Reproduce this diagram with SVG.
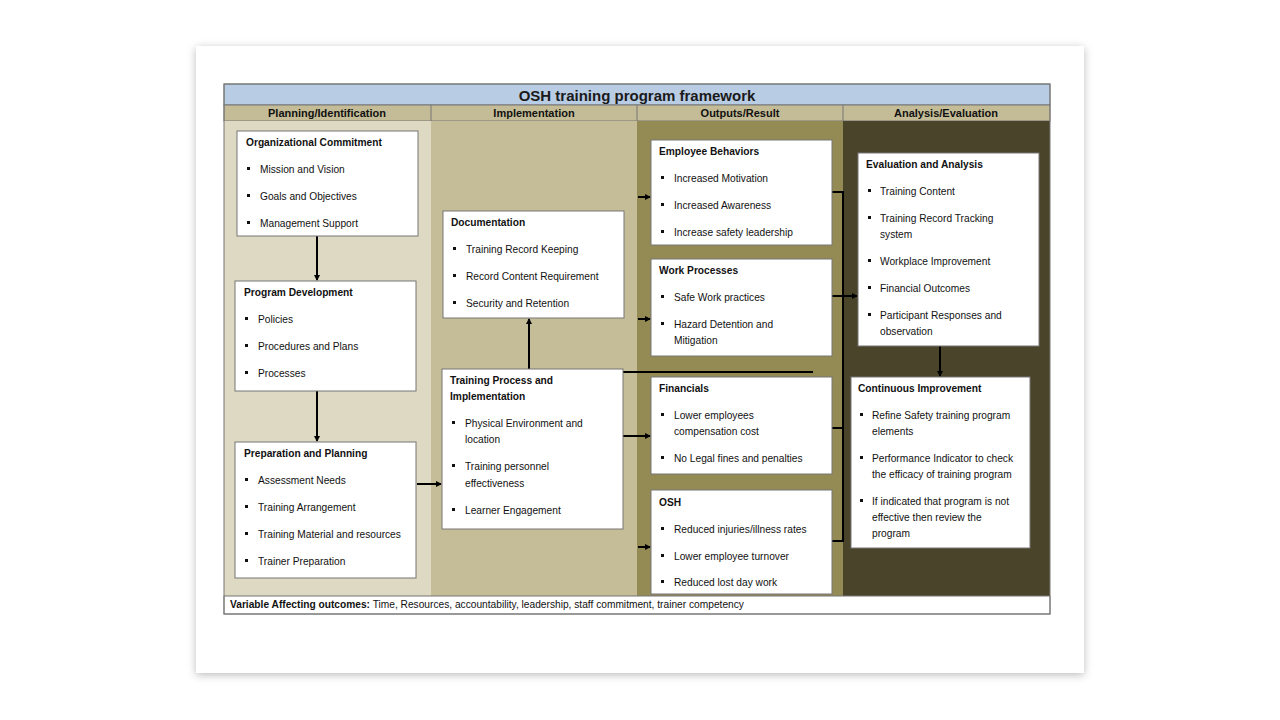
<svg xmlns="http://www.w3.org/2000/svg" width="1280" height="720" viewBox="0 0 1280 720">
<defs>
<marker id="ah" markerWidth="6" markerHeight="6" refX="5" refY="3" orient="auto" markerUnits="userSpaceOnUse"><path d="M0,0 L6,3 L0,6 z" fill="#000"/></marker>
<filter id="sh" x="-5%" y="-5%" width="110%" height="110%"><feGaussianBlur stdDeviation="4"/></filter>
</defs>
<style>
text{font-family:"Liberation Sans",Arial,sans-serif;font-size:10.2px;fill:#111}
.t{font-weight:bold}
.h{font-weight:bold;font-size:11px;text-anchor:middle}
.box{fill:#fff;stroke:#777;stroke-width:1}
.b{fill:#111}
.c{stroke:#000;stroke-width:2;fill:none}
</style>
<rect width="1280" height="720" fill="#fff"/>
<rect x="196" y="48" width="888" height="627" fill="#bbb" filter="url(#sh)"/>
<rect x="196" y="46" width="888" height="627" fill="#fff"/>
<rect x="224" y="84" width="826" height="21" fill="#b8cce4" stroke="#777"/>
<text x="637" y="101" style="font-size:15px;font-weight:bold;text-anchor:middle;fill:#1a1a1a">OSH training program framework</text>
<rect x="224" y="105" width="826" height="16" fill="#c4bc96" stroke="#777"/>
<line x1="431" y1="105" x2="431" y2="121" stroke="#777"/><line x1="637" y1="105" x2="637" y2="121" stroke="#777"/><line x1="843" y1="105" x2="843" y2="121" stroke="#777"/>
<text class="h" x="327" y="117">Planning/Identification</text>
<text class="h" x="534" y="117">Implementation</text>
<text class="h" x="740" y="117">Outputs/Result</text>
<text class="h" x="946" y="117">Analysis/Evaluation</text>
<rect x="224" y="121" width="207" height="475" fill="#ddd9c3"/>
<rect x="431" y="121" width="206" height="475" fill="#c4bd97"/>
<rect x="637" y="121" width="206" height="475" fill="#948a54"/>
<rect x="843" y="121" width="207" height="475" fill="#4a442a"/>
<rect x="224" y="596" width="826" height="18" fill="#fff" stroke="#777"/>
<text x="230" y="608"><tspan class="t">Variable Affecting outcomes:</tspan> Time, Resources, accountability, leadership, staff commitment, trainer competency</text>
<rect x="224" y="84" width="826" height="530" fill="none" stroke="#777"/>

<g id="connectors">
<line class="c" x1="317" y1="236" x2="317" y2="280" marker-end="url(#ah)"/>
<line class="c" x1="317" y1="391" x2="317" y2="441" marker-end="url(#ah)"/>
<line class="c" x1="417" y1="484" x2="441" y2="484" marker-end="url(#ah)"/>
<line class="c" x1="529" y1="372" x2="529" y2="319" marker-end="url(#ah)"/>
<line class="c" x1="463" y1="372" x2="813" y2="372"/>
<line class="c" x1="623" y1="436" x2="650" y2="436" marker-end="url(#ah)"/>
<line class="c" x1="638" y1="197" x2="650" y2="197" marker-end="url(#ah)"/>
<line class="c" x1="638" y1="319" x2="650" y2="319" marker-end="url(#ah)"/>
<line class="c" x1="638" y1="547" x2="650" y2="547" marker-end="url(#ah)"/>
<polyline class="c" points="832,192 843,192 843,541 832,541"/>
<line class="c" x1="832" y1="296" x2="843" y2="296"/>
<line class="c" x1="832" y1="428" x2="843" y2="428"/>
<line class="c" x1="843" y1="296" x2="857" y2="296" marker-end="url(#ah)"/>
<line class="c" x1="940" y1="346" x2="940" y2="376" marker-end="url(#ah)"/>
</g>

<g id="org"><rect class="box" x="237" y="131" width="181" height="105"/>
<text class="t" x="246" y="146">Organizational Commitment</text>
<rect class="b" x="247" y="167" width="3" height="3"/><text x="260" y="173">Mission and Vision</text>
<rect class="b" x="247" y="194" width="3" height="3"/><text x="260" y="200">Goals and Objectives</text>
<rect class="b" x="247" y="221" width="3" height="3"/><text x="260" y="227">Management Support</text></g>

<g id="progdev"><rect class="box" x="235" y="281" width="181" height="110"/>
<text class="t" x="244" y="296">Program Development</text>
<rect class="b" x="245" y="317" width="3" height="3"/><text x="258" y="323">Policies</text>
<rect class="b" x="245" y="344" width="3" height="3"/><text x="258" y="350">Procedures and Plans</text>
<rect class="b" x="245" y="371" width="3" height="3"/><text x="258" y="377">Processes</text></g>

<g id="prep"><rect class="box" x="235" y="442" width="181" height="136"/>
<text class="t" x="244" y="457">Preparation and Planning</text>
<rect class="b" x="245" y="478" width="3" height="3"/><text x="258" y="484">Assessment Needs</text>
<rect class="b" x="245" y="505" width="3" height="3"/><text x="258" y="511">Training Arrangement</text>
<rect class="b" x="245" y="532" width="3" height="3"/><text x="258" y="538">Training Material and resources</text>
<rect class="b" x="245" y="559" width="3" height="3"/><text x="258" y="565">Trainer Preparation</text></g>

<g id="doc"><rect class="box" x="443" y="211" width="181" height="107"/>
<text class="t" x="451" y="226">Documentation</text>
<rect class="b" x="453" y="247" width="3" height="3"/><text x="466" y="253">Training Record Keeping</text>
<rect class="b" x="453" y="274" width="3" height="3"/><text x="466" y="280">Record Content Requirement</text>
<rect class="b" x="453" y="301" width="3" height="3"/><text x="466" y="307">Security and Retention</text></g>

<g id="training"><rect class="box" x="442" y="369" width="181" height="160"/>
<text class="t" x="450" y="384">Training Process and</text><text class="t" x="450" y="400">Implementation</text>
<rect class="b" x="452" y="421" width="3" height="3"/><text x="465" y="427">Physical Environment and</text><text x="465" y="443">location</text>
<rect class="b" x="452" y="464" width="3" height="3"/><text x="465" y="470">Training personnel</text><text x="465" y="487">effectiveness</text>
<rect class="b" x="452" y="508" width="3" height="3"/><text x="465" y="514">Learner Engagement</text></g>

<g id="empl"><rect class="box" x="651" y="140" width="181" height="105"/>
<text class="t" x="659" y="155">Employee Behaviors</text>
<rect class="b" x="661" y="176" width="3" height="3"/><text x="674" y="182">Increased Motivation</text>
<rect class="b" x="661" y="203" width="3" height="3"/><text x="674" y="209">Increased Awareness</text>
<rect class="b" x="661" y="230" width="3" height="3"/><text x="674" y="236">Increase safety leadership</text></g>

<g id="work"><rect class="box" x="651" y="259" width="181" height="97"/>
<text class="t" x="659" y="274">Work Processes</text>
<rect class="b" x="661" y="295" width="3" height="3"/><text x="674" y="301">Safe Work practices</text>
<rect class="b" x="661" y="322" width="3" height="3"/><text x="674" y="328">Hazard Detention and</text><text x="674" y="344">Mitigation</text></g>

<g id="fin"><rect class="box" x="651" y="377" width="181" height="97"/>
<text class="t" x="659" y="392">Financials</text>
<rect class="b" x="661" y="413" width="3" height="3"/><text x="674" y="419">Lower employees</text><text x="674" y="435">compensation cost</text>
<rect class="b" x="661" y="456" width="3" height="3"/><text x="674" y="462">No Legal fines and penalties</text></g>

<g id="osh"><rect class="box" x="651" y="490" width="181" height="104"/>
<text class="t" x="659" y="506">OSH</text>
<rect class="b" x="661" y="527" width="3" height="3"/><text x="674" y="533">Reduced injuries/illness rates</text>
<rect class="b" x="661" y="554" width="3" height="3"/><text x="674" y="560">Lower employee turnover</text>
<rect class="b" x="661" y="580" width="3" height="3"/><text x="674" y="586">Reduced lost day work</text></g>

<g id="eval"><rect class="box" x="858" y="153" width="181" height="193"/>
<text class="t" x="866" y="168">Evaluation and Analysis</text>
<rect class="b" x="868" y="189" width="3" height="3"/><text x="880" y="195">Training Content</text>
<rect class="b" x="868" y="216" width="3" height="3"/><text x="880" y="222">Training Record Tracking</text><text x="880" y="238">system</text>
<rect class="b" x="868" y="259" width="3" height="3"/><text x="880" y="265">Workplace Improvement</text>
<rect class="b" x="868" y="286" width="3" height="3"/><text x="880" y="292">Financial Outcomes</text>
<rect class="b" x="868" y="313" width="3" height="3"/><text x="880" y="319">Participant Responses and</text><text x="880" y="335">observation</text></g>

<g id="ci"><rect class="box" x="851" y="377" width="179" height="171"/>
<text class="t" x="858" y="392">Continuous Improvement</text>
<rect class="b" x="860" y="413" width="3" height="3"/><text x="872" y="419">Refine Safety training program</text><text x="872" y="435">elements</text>
<rect class="b" x="860" y="456" width="3" height="3"/><text x="872" y="462">Performance Indicator to check</text><text x="872" y="478">the efficacy of training program</text>
<rect class="b" x="860" y="499" width="3" height="3"/><text x="872" y="505">If indicated that program is not</text><text x="872" y="521">effective then review the</text><text x="872" y="537">program</text></g>
</svg>
